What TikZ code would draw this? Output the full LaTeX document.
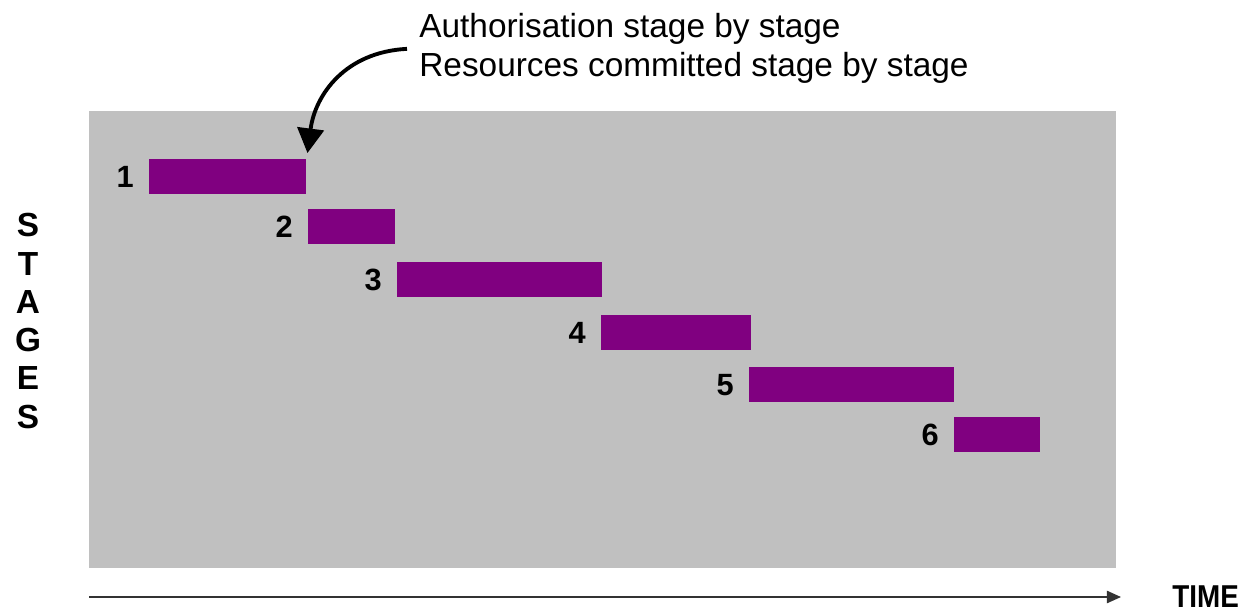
\documentclass[tikz,border=0pt]{standalone}
\usepackage{fontspec}
\setmainfont{Liberation Sans}
\usetikzlibrary{arrows.meta, positioning}
\definecolor{panelgray}{RGB}{192,192,192}
\definecolor{stagepurple}{RGB}{128,0,128}

\begin{document}
\begin{tikzpicture}[x=0.02cm, y=-0.02cm,
        bar/.style={fill=stagepurple, inner sep=0, minimum height=0.7cm, anchor=north west},
        num/.style={font=\fontsize{17.5}{20}\selectfont\bfseries, inner sep=0},
        head/.style={font=\fontsize{19}{22}\selectfont, align=left, inner sep=0},
        callout/.style={-{Triangle[length=14pt, width=15pt]}, line width=2.2pt},
        axis/.style={-{Triangle[length=8pt, width=7pt]}, line width=0.8pt, black!80}
    ]
    \useasboundingbox (0,0) rectangle (1248,612);
    \fill[panelgray] (89,111) rectangle (1116,568);
    % stage bars with their numbers
    \foreach \n/\xa/\xb/\ya in {1/149/306/159, 2/308/395/209, 3/397/602/262,
                                4/601/751/315, 5/749/954/367, 6/954/1040/417} {
        \pgfmathsetmacro\w{(\xb-\xa)*0.02}
        \node[bar, minimum width=\w cm] (bar\n) at (\xa,\ya) {};
        \node[num, left=0.3cm of bar\n] (num\n) {\n};
    }
    \node[font=\fontsize{19}{21.8}\selectfont\bfseries, align=center, inner sep=0] (stages) at (28,321) {S\\T\\A\\G\\E\\S};
    \node[head, anchor=north west] (head) at (419,13) {Authorisation stage by stage\\Resources committed stage by stage};
    \draw[callout, shorten <=0.24cm, shorten >=0.12cm] (head.west) .. controls (345,52) and (315,95) .. (bar1.north east);
    % time axis
    \node[font=\fontsize{18}{20}\selectfont\bfseries, inner sep=0, anchor=west] (time) at (1172,597) {\scalebox{0.88}[1]{TIME}};
    \coordinate (tstart) at (89,0 |- time.west);
    \draw[axis, shorten >=1.02cm] (tstart) -- (time.west);
\end{tikzpicture}
\end{document}
